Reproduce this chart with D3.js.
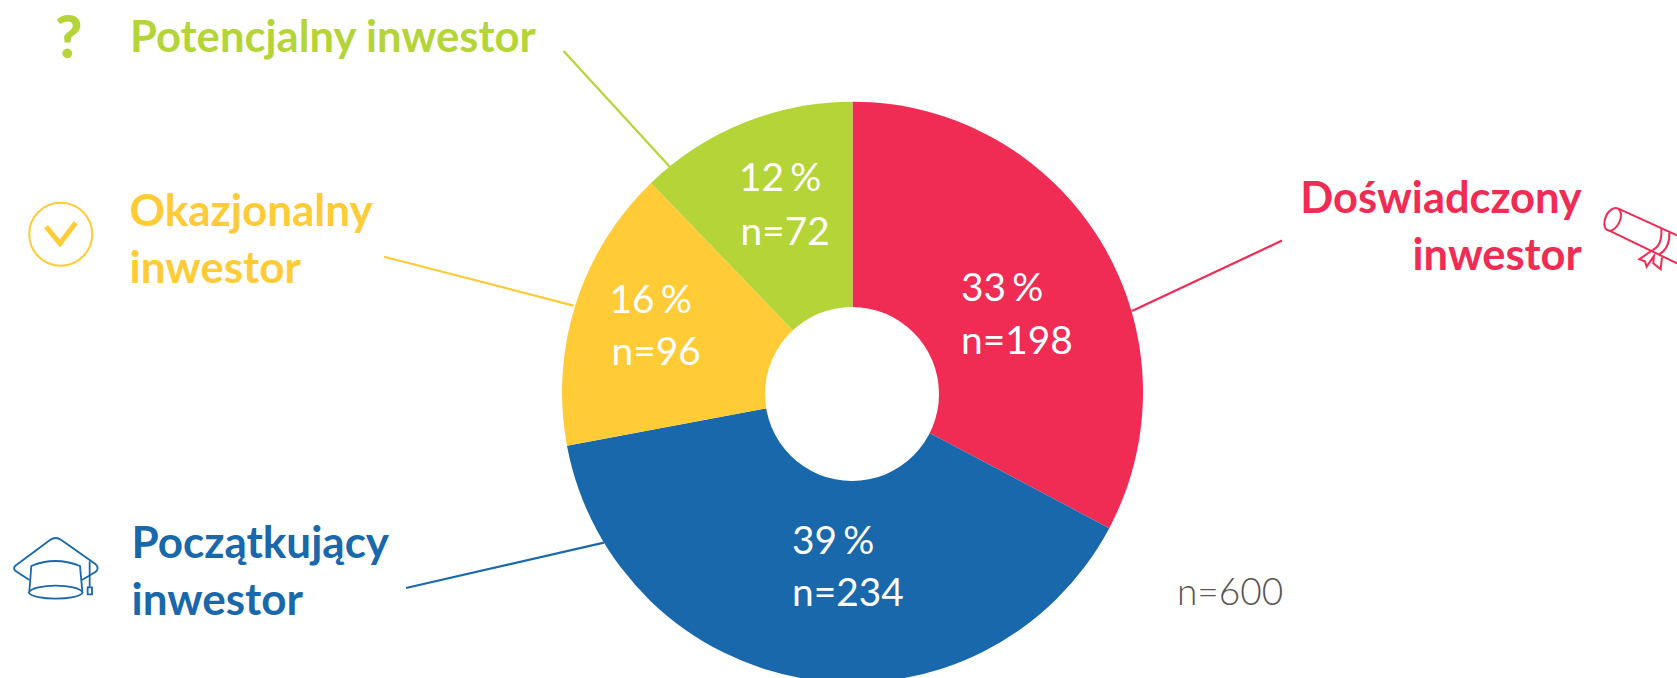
<!DOCTYPE html>
<html><head><meta charset="utf-8">
<script src="https://cdn.jsdelivr.net/npm/d3@7/dist/d3.min.js"></script>
<style>html,body{margin:0;padding:0;background:#fff;overflow:hidden}text{font-family:Lato,sans-serif}</style>
</head><body><svg id="c" width="1677" height="678"></svg>
<script>
const categories=["Doświadczony inwestor","Początkujący inwestor","Okazjonalny inwestor","Potencjalny inwestor"];
const shares=[32.75,39.3,15.75,12.2];
const counts=[198,234,96,72];
const colors=["#F02B54","#1968AB","#FFCB37","#B5D437"];
const totalLabel="n=600";

const svg=d3.select("#c");
const cx=852.5, cy=392.2, rOuter=290.5, holeCx=852, holeCy=394, holeR=87;

// sectors
const pie=d3.pie().sort(null).value(d=>d)(shares);
const arc=d3.arc().innerRadius(0).outerRadius(rOuter);
const g=svg.append("g").attr("transform",`translate(${cx},${cy})`);
g.selectAll("path").data(pie).join("path").attr("d",arc).attr("fill",(d,i)=>colors[i]);
svg.append("circle").attr("cx",holeCx).attr("cy",holeCy).attr("r",holeR).attr("fill","#fff");

// leader lines
const leaders=[[1282,240.6,1132,311],[406,588,604,542.6],[384,256.7,573.4,305.6],[563.6,51,670,167]];
svg.selectAll("line.l").data(leaders).join("line").attr("class","l")
 .attr("x1",d=>d[0]).attr("y1",d=>d[1]).attr("x2",d=>d[2]).attr("y2",d=>d[3])
 .attr("stroke",(d,i)=>colors[i]).attr("stroke-width",2.2);

// value labels
const valuePos=[[961,300.7,961,353.6],[792,553.8,792,606],[609.5,313,611.5,364.8],[739,190.5,740.5,244.5]];
shares.forEach((s,i)=>{
 const p=valuePos[i];
 const t=svg.append("text").attr("x",p[0]).attr("y",p[1]).attr("fill","#fff").attr("font-size",38.8).attr("font-weight",400);
 t.append("tspan").text(Math.round(s)+"\u2009");
 t.append("tspan").attr("dx",1.5).text("%");
 svg.append("text").attr("x",p[2]).attr("y",p[3]).attr("fill","#fff").attr("font-size",38.8).attr("font-weight",400).text("n="+counts[i]);
});

// category titles
const titleLines=categories.map((c,i)=>i==3?[c]:c.split(" "));
const titlePos=[[1581.7,[212.7,270],"end",43.4],[131.5,[557.7,615],"start",44],[129.5,[226,282.7],"start",44],[130,[51.7],"start",43.6]];
titleLines.forEach((ls,i)=>{
 const p=titlePos[i];
 ls.forEach((l,j)=>svg.append("text").attr("x",p[0]).attr("y",p[1][j]).attr("text-anchor",p[2])
   .attr("fill",colors[i]).attr("font-size",p[3]).attr("font-weight",700).text(l));
});
svg.append("text").attr("x",1177).attr("y",605).attr("fill","#555").attr("font-size",37).attr("font-weight",300).text(totalLabel);

// icons
svg.append("text").attr("x",55).attr("y",58.2).attr("fill",colors[3]).attr("font-size",59).attr("font-weight",900).text("?");
const chk=svg.append("g").attr("fill","none").attr("stroke",colors[2]);
chk.append("circle").attr("cx",60.7).attr("cy",234.3).attr("r",31.5).attr("stroke-width",2);
chk.append("path").attr("d","M46,226.7L60,243.5L75.7,222.7").attr("stroke-width",5);

const cap=svg.append("g").attr("fill","none").attr("stroke",colors[1]).attr("transform","translate(0,500) scale(0.3333)");
cap.selectAll("path").data([
 "M88,240 L48,214 Q36,205 48,196 L150,120 Q167,108 184,120 L286,192 Q300,205 286,216 L246,240",
 "M88,275 L94,198 Q165,168 240,198 L247,275",
 "M86,278 C100,250 235,250 248,278 C235,302 100,302 86,278 Z",
 "M269,184 L269,262","M263,262 L276,262 L276,283 L263,283 Z"
]).join("path").attr("d",d=>d).attr("stroke-width",5.4);

const dip=svg.append("g").attr("fill","none").attr("stroke",colors[0]).attr("transform","translate(1280,160) scale(0.3333)").attr("stroke-width",6);
dip.selectAll("path").data([
 "M1015,146 L1191,226","M988,212 L1191,310",
 "M1144,207 C1146,235 1140,260 1118,270","M1168,218 C1170,245 1160,272 1136,284",
 "M1118,270 L1078,298 L1095,304 L1100,320 L1122,288 L1120,310 L1142,328 L1146,292"
]).join("path").attr("d",d=>d);
dip.append("ellipse").attr("cx",998).attr("cy",178).attr("rx",22).attr("ry",36).attr("transform","rotate(25 998 178)");
</script></body></html>
